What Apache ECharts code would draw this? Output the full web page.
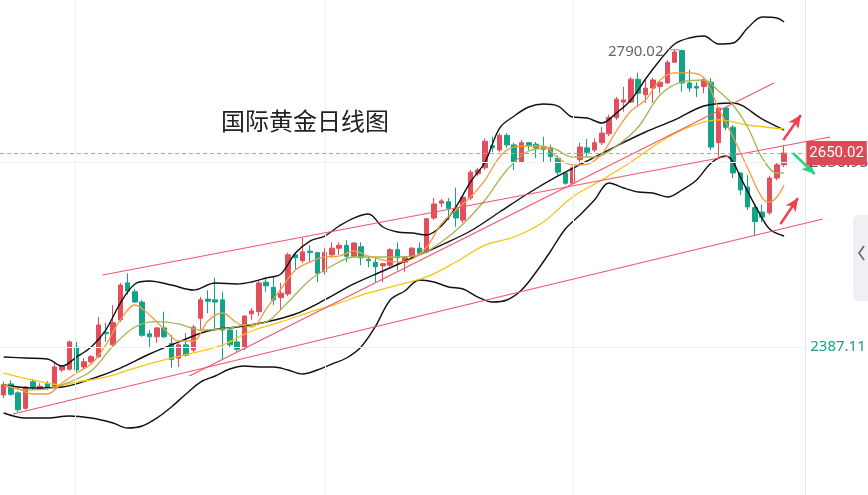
<!DOCTYPE html>
<html>
<head>
<meta charset="utf-8">
<script src="https://cdn.jsdelivr.net/npm/echarts@6/dist/echarts.min.js"></script>
<style>
  html, body { margin: 0; padding: 0; background: #fff; }
  #chart { width: 868px; height: 495px; }
</style>
</head>
<body>
<div id="chart"></div>
<script>
// 日K: [open, close, low, high]
var candles = [
  [2322, 2336, 2318, 2340], [2337, 2323, 2321, 2342], [2325, 2302, 2299, 2327], [2304, 2333, 2302, 2334],
  [2340, 2333, 2329, 2344], [2331, 2334, 2329, 2338], [2338, 2332, 2329, 2341], [2334, 2360, 2333, 2365],
  [2356, 2361, 2353, 2363], [2357, 2394, 2355, 2396], [2387, 2356, 2353, 2394], [2360, 2367, 2356, 2372],
  [2367, 2374, 2365, 2376], [2374, 2417, 2372, 2428], [2407, 2405, 2394, 2420], [2390, 2420, 2387, 2444],
  [2424, 2471, 2421, 2474], [2474, 2463, 2458, 2487], [2462, 2448, 2447, 2466], [2448, 2403, 2401, 2451],
  [2405, 2401, 2387, 2410], [2401, 2413, 2393, 2414], [2413, 2401, 2399, 2435], [2392, 2370, 2359, 2403],
  [2372, 2390, 2360, 2392], [2390, 2376, 2374, 2406], [2383, 2414, 2380, 2417], [2426, 2451, 2410, 2455],
  [2452, 2449, 2433, 2464], [2451, 2448, 2410, 2481], [2451, 2410, 2370, 2462], [2410, 2390, 2387, 2414],
  [2394, 2384, 2380, 2410], [2386, 2429, 2383, 2430], [2432, 2436, 2424, 2440], [2435, 2474, 2429, 2477],
  [2475, 2470, 2462, 2481], [2468, 2451, 2444, 2482], [2454, 2460, 2437, 2474], [2459, 2512, 2456, 2515],
  [2512, 2508, 2491, 2515], [2504, 2516, 2501, 2535], [2517, 2515, 2501, 2525], [2515, 2487, 2475, 2516],
  [2489, 2515, 2485, 2521], [2512, 2521, 2508, 2529], [2521, 2525, 2512, 2529], [2525, 2510, 2502, 2532],
  [2510, 2528, 2508, 2529], [2523, 2508, 2498, 2529], [2506, 2504, 2495, 2509], [2502, 2496, 2475, 2509],
  [2497, 2500, 2475, 2501], [2498, 2519, 2496, 2521], [2519, 2508, 2491, 2529], [2502, 2508, 2489, 2509],
  [2509, 2521, 2508, 2523], [2521, 2514, 2512, 2529], [2516, 2561, 2514, 2562], [2562, 2581, 2559, 2589],
  [2582, 2585, 2577, 2588], [2584, 2575, 2559, 2589], [2575, 2562, 2550, 2603], [2559, 2590, 2555, 2593],
  [2589, 2624, 2586, 2627], [2622, 2627, 2619, 2630], [2630, 2666, 2627, 2670], [2660, 2657, 2651, 2672],
  [2654, 2674, 2651, 2677], [2674, 2661, 2657, 2677], [2661, 2638, 2627, 2664], [2638, 2664, 2636, 2668],
  [2664, 2660, 2654, 2665], [2662, 2657, 2643, 2665], [2658, 2655, 2637, 2672], [2657, 2645, 2638, 2661],
  [2643, 2624, 2620, 2647], [2623, 2609, 2607, 2624], [2609, 2630, 2608, 2632], [2641, 2658, 2634, 2664],
  [2657, 2651, 2645, 2669], [2654, 2664, 2651, 2670], [2664, 2677, 2661, 2685], [2676, 2698, 2673, 2702],
  [2698, 2723, 2695, 2726], [2719, 2722, 2706, 2740], [2719, 2750, 2718, 2753], [2750, 2731, 2712, 2759],
  [2729, 2738, 2718, 2749], [2738, 2749, 2718, 2752], [2740, 2746, 2731, 2749], [2745, 2773, 2744, 2776],
  [2773, 2787, 2772, 2790], [2789, 2745, 2733, 2790.02], [2745, 2738, 2733, 2763], [2740, 2738, 2726, 2746],
  [2740, 2749, 2731, 2752], [2746, 2658, 2654, 2752], [2664, 2711, 2645, 2712], [2711, 2685, 2681, 2712],
  [2685, 2623, 2616, 2688], [2623, 2600, 2593, 2624], [2604, 2577, 2573, 2620], [2576, 2557, 2539, 2582],
  [2570, 2563, 2556, 2580], [2569, 2616, 2566, 2619], [2616, 2634, 2613, 2637], [2634, 2650.02, 2631, 2661]
];

// 布林带 上/中/下 [k线序号, 价格]
var bollUp = [[0, 2373.5], [3, 2372.2], [6, 2370.8], [8, 2361.3], [10, 2373.5], [12, 2387.1], [14, 2410.1], [16, 2446.7],
  [18, 2472.5], [20, 2476.5], [23, 2471.1], [26, 2464.3], [29, 2473.8], [32, 2472.5], [34, 2475.2], [36, 2480.6],
  [38, 2486.0], [40, 2514.5], [42, 2530.7], [44, 2537.5], [46, 2551.1], [48, 2561.9], [50, 2567.3], [52, 2549.7],
  [54, 2543.0], [56, 2541.6], [58, 2538.9], [60, 2551.1], [62, 2576.8], [64, 2610.7], [66, 2637.8], [68, 2683.9],
  [70, 2700.2], [72, 2712.4], [74, 2716.4], [76, 2713.7], [78, 2698.8], [80, 2697.5], [82, 2690.7], [84, 2704.2],
  [86, 2721.9], [88, 2750.3], [90, 2776.1], [92, 2797.8], [94, 2805.9], [96, 2808.6], [98, 2797.8], [100, 2799.1],
  [102, 2819.4], [104, 2834.4], [106, 2833.0], [107, 2827.6]];
var bollMid = [[0, 2335.6], [4, 2331.5], [8, 2332.9], [12, 2343.7], [16, 2358.6], [20, 2377.6], [24, 2393.9],
  [28, 2408.8], [32, 2414.2], [36, 2421.0], [40, 2431.8], [44, 2450.8], [48, 2472.5], [52, 2490.1], [56, 2507.7],
  [60, 2525.3], [64, 2544.3], [68, 2570.1], [72, 2595.8], [76, 2618.9], [80, 2639.2], [84, 2659.5], [88, 2678.5],
  [92, 2694.8], [96, 2713.7], [100, 2717.8], [104, 2696.1], [107, 2681.2]];
var bollLow = [[0, 2297.6], [3, 2290.8], [6, 2290.8], [9, 2293.6], [12, 2290.8], [15, 2284.1], [17, 2277.3],
  [19, 2280.0], [21, 2290.8], [23, 2305.8], [25, 2323.4], [27, 2339.6], [29, 2347.8], [31, 2357.3], [33, 2361.3],
  [35, 2360.0], [37, 2360.0], [39, 2355.9], [41, 2350.5], [43, 2355.9], [45, 2364.0], [47, 2372.2], [49, 2387.1],
  [51, 2415.5], [53, 2450.8], [55, 2463.0], [57, 2477.9], [59, 2475.2], [61, 2468.4], [63, 2465.7], [65, 2454.8],
  [67, 2448.1], [69, 2450.8], [71, 2464.3], [73, 2488.7], [75, 2517.2], [77, 2547.0], [79, 2566.0], [81, 2586.3],
  [83, 2609.4], [85, 2602.6], [87, 2597.2], [89, 2595.8], [91, 2590.4], [93, 2599.9], [95, 2613.4], [97, 2636.5],
  [99, 2645.9], [100, 2637.8], [101, 2617.5], [103, 2579.5], [105, 2547.0], [107, 2537.5]];

// 均线
var ma5 = [[0, 2335.6], [2, 2330.2], [4, 2323.4], [6, 2323.4], [8, 2338.3], [10, 2351.8], [12, 2364.0], [14, 2389.8],
  [16, 2423.7], [18, 2444.0], [20, 2430.5], [22, 2411.5], [24, 2395.2], [26, 2395.2], [28, 2422.3], [30, 2433.2],
  [32, 2419.6], [34, 2414.2], [36, 2438.6], [38, 2465.7], [40, 2491.4], [42, 2502.3], [44, 2509.1], [46, 2510.4],
  [48, 2517.2], [50, 2510.4], [52, 2505.0], [54, 2502.3], [56, 2506.4], [58, 2522.6], [60, 2553.8], [62, 2572.8],
  [64, 2590.4], [66, 2613.4], [68, 2644.6], [70, 2658.2], [72, 2659.5], [74, 2659.5], [76, 2643.2], [78, 2633.8],
  [80, 2635.1], [82, 2648.7], [84, 2679.8], [86, 2707.0], [88, 2721.9], [90, 2749.0], [92, 2758.5], [94, 2758.5],
  [96, 2751.7], [98, 2711.0], [100, 2671.7], [102, 2629.7], [104, 2589.0], [105, 2583.6], [106, 2590.4], [107, 2606.7]];
var ma10 = [[0, 2335.6], [3, 2328.8], [6, 2330.2], [9, 2339.6], [12, 2354.5], [15, 2388.4], [18, 2414.2], [21, 2421.6],
  [24, 2418.3], [27, 2410.1], [30, 2411.5], [33, 2416.9], [36, 2421.0], [39, 2448.1], [42, 2477.9], [45, 2496.9],
  [48, 2509.1], [51, 2509.1], [54, 2509.1], [57, 2511.8], [60, 2529.4], [63, 2553.8], [66, 2586.3], [69, 2627.0],
  [72, 2652.7], [75, 2656.8], [78, 2644.6], [81, 2644.6], [84, 2659.5], [87, 2685.3], [90, 2728.6], [93, 2746.3],
  [96, 2749.0], [98, 2734.1], [100, 2715.1], [102, 2685.3], [104, 2643.2], [106, 2622.9], [107, 2622.9]];
var ma30 = [[0, 2351.8], [4, 2342.4], [8, 2335.6], [10, 2339.6], [14, 2346.4], [18, 2358.6], [22, 2369.5], [26, 2379.0],
  [30, 2389.8], [34, 2408.8], [38, 2421.0], [42, 2434.5], [46, 2446.7], [50, 2460.3], [54, 2471.1], [58, 2482.0],
  [62, 2502.3], [66, 2525.3], [70, 2536.2], [74, 2556.5], [78, 2590.4], [82, 2613.4], [86, 2637.8], [90, 2664.9],
  [94, 2685.3], [98, 2694.8], [102, 2688.0], [107, 2682.6]];

// 趋势线 / 箭头 (起点, 终点)
var channelTop = [[13.57, 2484.7], [113.3, 2671.7]];
var channelBottom = [[1.28, 2296.3], [112.3, 2560.6]];
var supportLine = [[25.46, 2347.8], [105.6, 2744.9]];
var arrowsUp = [[[106.9, 2667.6], [109.3, 2701.5]], [[106.5, 2553.8], [108.9, 2589.0]]];
var arrowsDown = [[[108.2, 2650.0], [111.2, 2621.6]]];

var lastPrice = 2650.02;
var highPrice = 2790.02;
var priceLevels = [2636.95, 2387.11];
var dayLines = [9.88, 44.03, 78.05];
var axisEdge = 109.9;

var slots = 119;
var days = [];
for (var i = 0; i < slots; i++) days.push('D' + (i + 1));

var RED = '#e14f5c';
var GREEN = '#13a488';

initChart();

function lineSeries(data, color, width) {
  return {
    type: 'line', xAxisIndex: 1, data: data, smooth: 0.35, symbol: 'none', silent: true, z: 3,
    lineStyle: { color: color, width: width }
  };
}

function seg(a, b, style) {
  return [{ coord: a, lineStyle: style }, { coord: b }];
}

function initChart() {
  var chart = echarts.init(document.getElementById('chart'), null, { renderer: 'canvas' });

  var gridMarks = [];
  dayLines.forEach(function (x) {
    gridMarks.push([{ coord: [x, 2186.5] }, { coord: [x, 2857.4] }]);
  });
  gridMarks.push([{ coord: [axisEdge, 2186.5], lineStyle: { color: '#e6e8ee' } }, { coord: [axisEdge, 2857.4] }]);
  gridMarks.push([{ coord: [-0.5, priceLevels[0]], label: { show: true, position: 'end', formatter: priceLevels[0].toFixed(2), color: '#555', fontSize: 16, distance: 4 } }, { coord: [axisEdge, priceLevels[0]] }]);
  gridMarks.push([{ coord: [-0.5, priceLevels[1]], label: { show: true, position: 'end', formatter: priceLevels[1].toFixed(2), color: '#17a08a', fontSize: 15, distance: 5 } }, { coord: [axisEdge, priceLevels[1]] }]);

  var trendStyle = { color: '#f4566c', width: 1.2, type: 'solid' };

  var option = {
    animation: false,
    backgroundColor: '#fff',
    textStyle: { fontFamily: 'Noto Sans, Noto Sans CJK SC, sans-serif' },
    title: {
      text: '国际黄金日线图', left: 216, top: 104,
      textStyle: { fontSize: 24, fontWeight: 'normal', color: '#222', fontFamily: 'Noto Sans CJK SC' }
    },
    grid: { left: -3, right: 0, top: 0, bottom: 0 },
    xAxis: [
      { type: 'category', data: days, show: false, boundaryGap: true },
      { type: 'value', min: -0.5, max: slots - 0.5, show: false }
    ],
    yAxis: { type: 'value', min: 2186.5, max: 2857.4, show: false, splitLine: { show: false } },
    series: [
      {
        type: 'line', xAxisIndex: 1, data: [], silent: true, z: 1,
        markLine: {
          silent: true, symbol: 'none', animation: false,
          label: { show: false },
          lineStyle: { color: '#f0f1f4', width: 1, type: 'solid' },
          data: gridMarks
        }
      },
      {
        type: 'candlestick', data: candles, barWidth: 5, z: 2,
        itemStyle: { color: RED, color0: GREEN, borderColor: RED, borderColor0: GREEN, borderWidth: 1 },
        markPoint: {
          silent: true, animation: false,
          symbol: 'rect', symbolSize: [13, 1], symbolOffset: [-9, 0],
          itemStyle: { color: '#999' },
          label: { show: true, position: 'left', distance: 3, color: '#666', fontSize: 15, offset: [0, 2] },
          data: [{ coord: [93, highPrice], value: highPrice.toFixed(2) }]
        }
      },
      lineSeries(bollUp, '#111', 1.4),
      lineSeries(bollMid, '#111', 1.4),
      lineSeries(bollLow, '#111', 1.4),
      lineSeries(ma30, '#f9c414', 1.3),
      lineSeries(ma10, '#a5b550', 1.3),
      lineSeries(ma5, '#f8993f', 1.3),
      {
        type: 'line', xAxisIndex: 1, data: [], silent: true, z: 4,
        markLine: {
          silent: true, symbol: 'none', animation: false, label: { show: false },
          data: [
            seg(channelTop[0], channelTop[1], trendStyle),
            seg(channelBottom[0], channelBottom[1], trendStyle),
            seg(supportLine[0], supportLine[1], trendStyle)
          ]
        }
      },
      {
        type: 'line', xAxisIndex: 1, data: [], silent: true, z: 5,
        markLine: {
          silent: true, animation: false,
          symbol: ['none', 'arrow'], symbolSize: [9, 13],
          label: { show: false },
          data: arrowsUp.map(function (a) {
            return seg(a[0], a[1], { color: '#f2404f', width: 2.5, type: 'solid' });
          }).concat(arrowsDown.map(function (a) {
            return seg(a[0], a[1], { color: '#2fd07c', width: 2.5, type: 'solid' });
          }))
        }
      },
      {
        type: 'line', xAxisIndex: 1, data: [], silent: true, z: 6,
        markLine: {
          silent: true, symbol: 'none', animation: false,
          data: [[{
            coord: [-0.5, lastPrice],
            lineStyle: { color: '#f08a96', width: 1, type: [4, 3] },
            label: {
              show: true, position: 'end', distance: 1, formatter: lastPrice.toFixed(2),
              color: '#fff', fontSize: 15, fontFamily: 'Roboto', backgroundColor: '#dc4a58', padding: [5, 3, 4, 3]
            }
          }, { coord: [axisEdge, lastPrice] }]]
        }
      }
    ],
    graphic: [
      { type: 'rect', shape: { x: 853, y: 215, width: 24, height: 86, r: 6 }, style: { fill: '#eef0f4' }, silent: true },
      { type: 'polyline', shape: { points: [[864, 246], [859, 253], [864, 260]] }, style: { stroke: '#666', lineWidth: 1.6, fill: null }, silent: true }
    ]
  };
  chart.setOption(option);
}
</script>
</body>
</html>
